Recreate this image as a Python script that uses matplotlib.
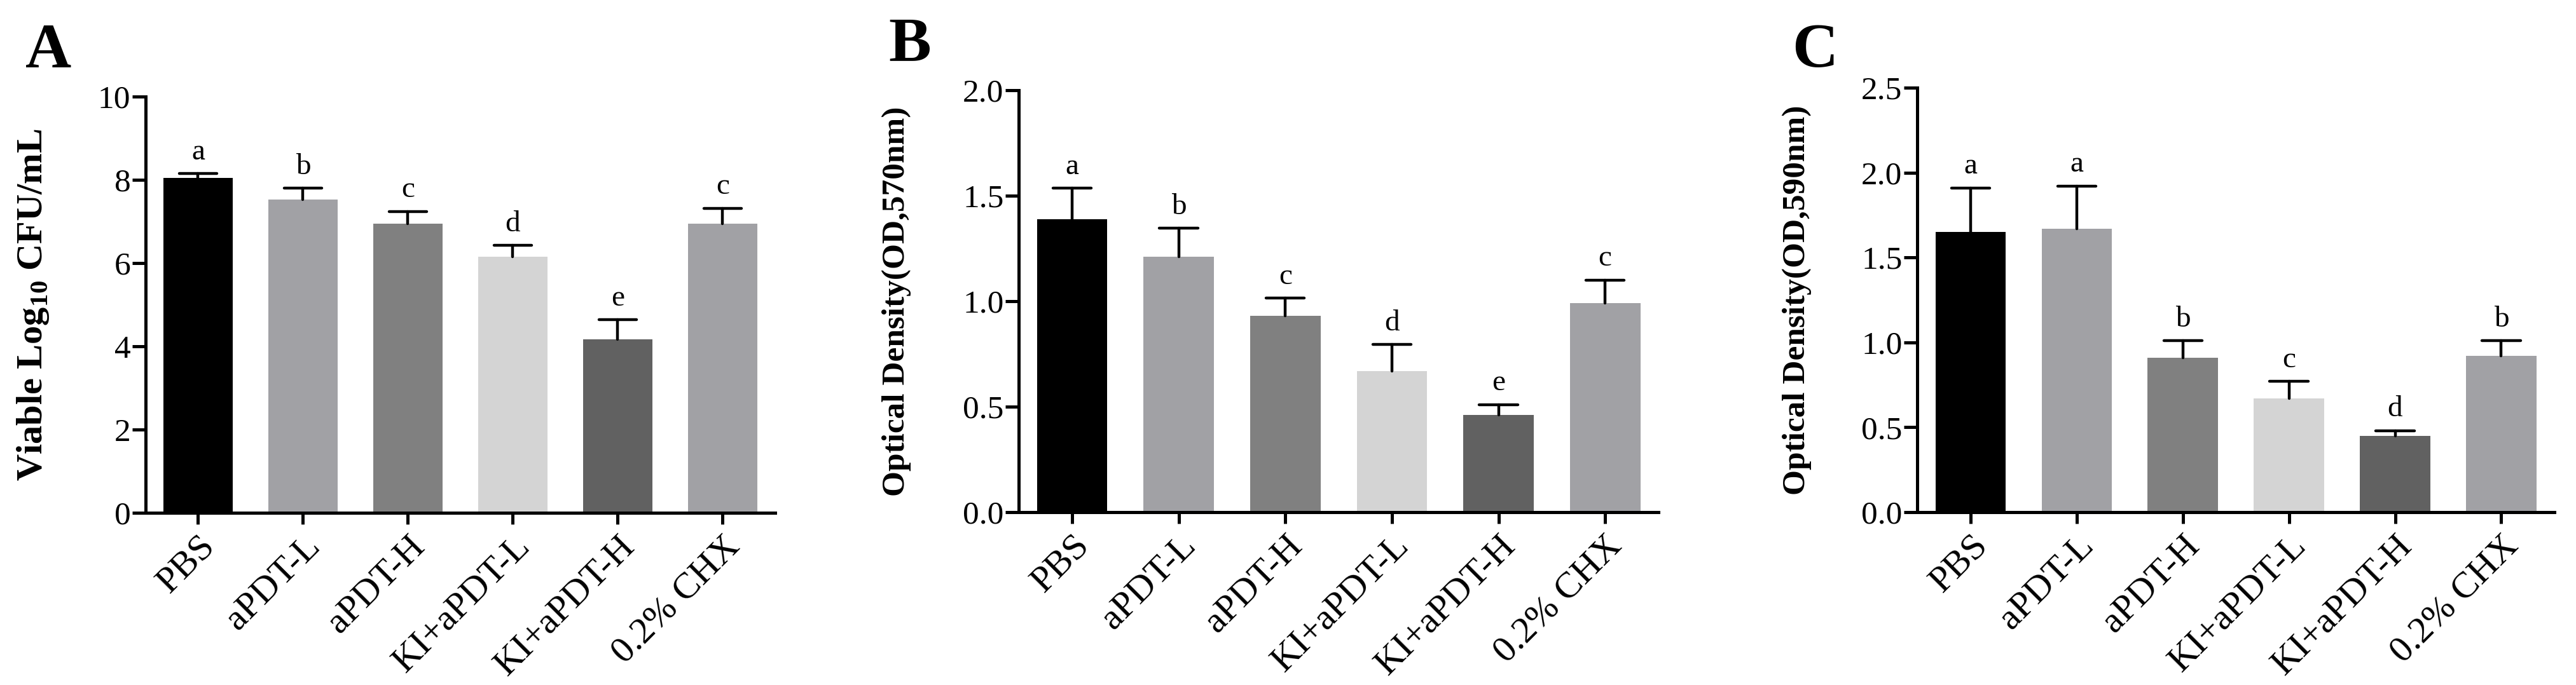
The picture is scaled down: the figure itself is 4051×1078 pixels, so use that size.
import matplotlib
matplotlib.use("Agg")
import matplotlib.pyplot as plt
import numpy as np

plt.rcParams['font.family'] = ['Liberation Serif', 'DejaVu Serif']
plt.rcParams['mathtext.fontset'] = 'custom'
plt.rcParams['mathtext.rm'] = 'Liberation Serif'
plt.rcParams['mathtext.bf'] = 'Liberation Serif:bold'

groups = ["PBS", "aPDT-L", "aPDT-H", "KI+aPDT-L", "KI+aPDT-H", "0.2% CHX"]
bar_colors = ["#000000", "#a1a1a5", "#808080", "#d4d4d4", "#616161", "#a1a1a5"]

# panel A: viable counts
cfu_mean = [8.05, 7.53, 6.95, 6.15, 4.17, 6.94]
cfu_sd = [0.10, 0.27, 0.29, 0.27, 0.47, 0.38]
cfu_sig = ["a", "b", "c", "d", "e", "c"]

# panel B: OD 570nm
od570_mean = [1.39, 1.21, 0.93, 0.67, 0.46, 0.99]
od570_sd = [0.145, 0.135, 0.085, 0.125, 0.05, 0.11]
od570_sig = ["a", "b", "c", "d", "e", "c"]

# panel C: OD 590nm
od590_mean = [1.65, 1.67, 0.91, 0.67, 0.45, 0.92]
od590_sd = [0.26, 0.25, 0.10, 0.10, 0.03, 0.09]
od590_sig = ["a", "a", "b", "c", "d", "b"]

fig = plt.figure(figsize=(40.51, 10.78), dpi=100)

panels = [
    ("A", [0.0565, 0.2514, 0.2444, 0.6076], cfu_mean, cfu_sd, cfu_sig,
     r"Viable Log$_{\mathbf{10}}$ CFU/mL", (0, 10), np.arange(0, 11, 2), "{:.0f}", 42, -0.179, (0.0099, 0.9017)),
    ("B", [0.3955, 0.2523, 0.2483, 0.6160], od570_mean, od570_sd, od570_sig,
     "Optical Density(OD,570nm)", (0, 2.0), np.arange(0, 2.01, 0.5), "{:.1f}", 37, -0.191, (0.3449, 0.9119)),
    ("C", [0.7443, 0.2523, 0.2473, 0.6197], od590_mean, od590_sd, od590_sig,
     "Optical Density(OD,590nm)", (0, 2.5), np.arange(0, 2.51, 0.5), "{:.1f}", 37, -0.189, (0.6956, 0.9026)),
]

x = np.arange(len(groups))
for letter, rect, mean, sd, sig, ylab, ylim, yticks, fmt, ylab_fs, ylab_x, letter_pos in panels:
    ax = fig.add_axes(rect)
    mean = np.array(mean)
    sd = np.array(sd)
    ax.bar(x, mean, width=0.66, color=bar_colors, edgecolor="none", zorder=2)
    # upper error bar only
    ax.vlines(x, mean, mean + sd, color="black", linewidth=3.2, capstyle="round", zorder=3)
    ax.hlines(mean + sd, x - 0.18, x + 0.18, color="black", linewidth=3.2, capstyle="round", zorder=3)
    for xi, top, s in zip(x, mean + sd, sig):
        ax.annotate(s, (xi, top), xytext=(0, 9), textcoords="offset points",
                    ha="center", va="bottom", fontsize=34)

    ax.set_xlim(-0.5, len(groups) - 0.5)
    ax.set_ylim(*ylim)
    ax.set_yticks(yticks)
    ax.set_yticklabels([fmt.format(v) for v in yticks])
    ax.set_xticks(x)
    ax.set_xticklabels(groups, rotation=45, ha="right", va="top", rotation_mode="anchor")
    for side in ["top", "right"]:
        ax.spines[side].set_visible(False)
    for side in ["left", "bottom"]:
        ax.spines[side].set_linewidth(3.6)
    ax.tick_params(axis="y", direction="out", length=15, width=3.6, pad=2, labelsize=37)
    ax.tick_params(axis="x", direction="out", length=13, width=3.6, pad=6, labelsize=42)

    ax.text(ylab_x, 0.5, ylab, transform=ax.transAxes, rotation=90, ha="center", va="center",
            fontsize=ylab_fs, fontweight="bold")
    fig.text(letter_pos[0], letter_pos[1], letter, fontsize=72, fontweight="bold", ha="left", va="baseline")

fig.savefig("out.png", dpi=100, facecolor="white")
